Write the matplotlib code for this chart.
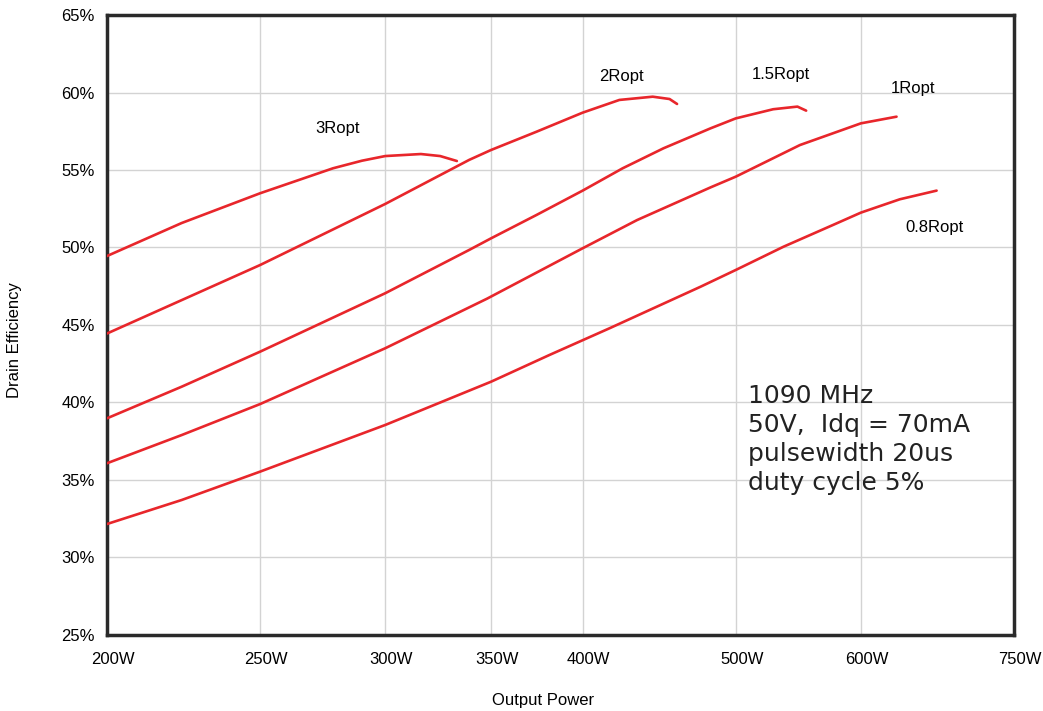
import matplotlib
matplotlib.use("Agg")
import matplotlib.pyplot as plt
import matplotlib.transforms as mtransforms
from matplotlib.ticker import FixedLocator, NullLocator

plt.rcParams['font.family'] = ['Liberation Sans', 'DejaVu Sans']

# Output power (W) and drain efficiency (%) for each load
p_3ropt = [200, 223, 250, 278, 290, 300, 316, 325, 333]
e_3ropt = [49.45, 51.58, 53.5, 55.11, 55.6, 55.9, 56.03, 55.9, 55.58]

p_2ropt = [200, 250, 300, 339, 350, 374, 400, 422, 443, 454, 459]
e_2ropt = [44.45, 48.87, 52.81, 55.65, 56.29, 57.47, 58.7, 59.52, 59.73, 59.58, 59.26]

p_15ropt = [200, 223, 250, 300, 339, 350, 374, 400, 424, 450, 482, 500, 528, 547, 554]
e_15ropt = [38.98, 41.02, 43.28, 47.05, 49.84, 50.59, 52.1, 53.67, 55.11, 56.4,
            57.69, 58.33, 58.92, 59.09, 58.83]

p_1ropt = [200, 223, 250, 300, 348, 400, 433, 482, 500, 549, 600, 632]
e_1ropt = [36.08, 37.9, 39.9, 43.5, 46.7, 49.95, 51.77, 53.88, 54.57, 56.61, 58.01, 58.44]

p_08ropt = [200, 223, 250, 300, 350, 381, 416, 475, 500, 536, 576, 600, 635, 670]
e_08ropt = [32.16, 33.71, 35.54, 38.55, 41.34, 43.06, 44.79, 47.47, 48.55, 50.05,
            51.45, 52.25, 53.11, 53.67]

curve_labels = ["3Ropt", "2Ropt", "1.5Ropt", "1Ropt", "0.8Ropt"]
label_pos = [(280, 57.65), (423, 61.06), (534, 61.19), (647, 60.23), (668, 51.32)]

x_ticks = [200, 250, 300, 350, 400, 500, 600, 750]
x_tick_labels = ["200W", "250W", "300W", "350W", "400W", "500W", "600W", "750W"]
y_ticks = [25, 30, 35, 40, 45, 50, 55, 60, 65]
y_tick_labels = ["25%", "30%", "35%", "40%", "45%", "50%", "55%", "60%", "65%"]

note = "1090 MHz\n50V,  Idq = 70mA\npulsewidth 20us\nduty cycle 5%"

red = "#e8262b"

fig = plt.figure(figsize=(10.43, 7.11), dpi=100)
ax = fig.add_axes([0.1026, 0.1069, 0.8696, 0.872])

for p, e in [(p_3ropt, e_3ropt), (p_2ropt, e_2ropt), (p_15ropt, e_15ropt),
             (p_1ropt, e_1ropt), (p_08ropt, e_08ropt)]:
    ax.plot(p, e, color=red, lw=1.9, solid_capstyle='round',
            solid_joinstyle='round', zorder=3)

for lab, (x, y) in zip(curve_labels, label_pos):
    ax.text(x, y, lab, ha='center', va='center', fontsize=12)

ax.text(509, 41.2, note, ha='left', va='top', fontsize=18,
        family='DejaVu Sans', color='#222222', linespacing=1.26)

ax.set_xscale('log')
ax.set_xlim(200, 750)
ax.set_ylim(25, 65)
ax.xaxis.set_major_locator(FixedLocator(x_ticks))
ax.xaxis.set_minor_locator(NullLocator())
ax.set_xticklabels(x_tick_labels)
ax.set_yticks(y_ticks)
ax.set_yticklabels(y_tick_labels)
ax.tick_params(length=0, labelsize=12)
ax.tick_params(axis='y', pad=9)
ax.tick_params(axis='x', pad=12)

offset = mtransforms.ScaledTranslation(0.06, 0, fig.dpi_scale_trans)
for lbl in ax.get_xticklabels():
    lbl.set_transform(lbl.get_transform() + offset)

ax.grid(True, color='#d3d3d3', lw=1)
ax.set_axisbelow(True)
for s in ax.spines.values():
    s.set_color('#2a2a2a')
    s.set_linewidth(2.5)

fig.text(543 / 1043, 1 - 700 / 711, "Output Power", ha='center', va='center', fontsize=12)
fig.text(15 / 1043, 1 - 340 / 711, "Drain Efficiency", ha='center', va='center',
         rotation=90, fontsize=12)

fig.savefig("out.png", dpi=100)
